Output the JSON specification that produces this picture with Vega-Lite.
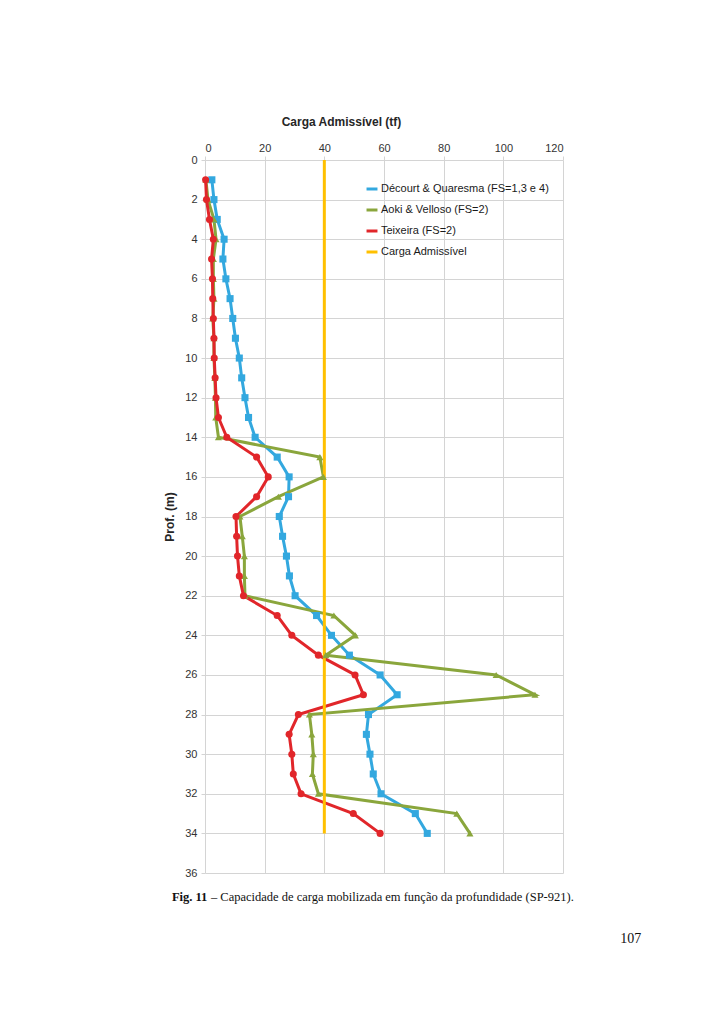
{
  "$schema": "https://vega.github.io/schema/vega-lite/v6.json",
  "width": 358,
  "height": 713,
  "autosize": {"type": "none"},
  "padding": {"left": 205, "top": 160, "right": 161, "bottom": 151},
  "background": "white",
  "config": {
    "font": "Liberation Sans",
    "view": {"stroke": null},
    "axis": {
      "gridColor": "#D4D4D4",
      "gridWidth": 1,
      "tickColor": "#D4D4D4",
      "tickSize": 4,
      "domain": false,
      "labelOverlap": false,
      "labelFont": "Liberation Sans",
      "labelFontSize": 11,
      "labelColor": "#333333",
      "titleFont": "Liberation Sans",
      "titleFontSize": 12,
      "titleFontWeight": "bold",
      "titleColor": "#262626"
    }
  },
  "datasets": {
    "series": [
      {"serie": "Décourt & Quaresma (FS=1,3 e 4)", "prof": 1, "carga": 2.3},
      {"serie": "Décourt & Quaresma (FS=1,3 e 4)", "prof": 2, "carga": 3.0},
      {"serie": "Décourt & Quaresma (FS=1,3 e 4)", "prof": 3, "carga": 4.1},
      {"serie": "Décourt & Quaresma (FS=1,3 e 4)", "prof": 4, "carga": 6.4},
      {"serie": "Décourt & Quaresma (FS=1,3 e 4)", "prof": 5, "carga": 6.0},
      {"serie": "Décourt & Quaresma (FS=1,3 e 4)", "prof": 6, "carga": 7.0},
      {"serie": "Décourt & Quaresma (FS=1,3 e 4)", "prof": 7, "carga": 8.4},
      {"serie": "Décourt & Quaresma (FS=1,3 e 4)", "prof": 8, "carga": 9.3},
      {"serie": "Décourt & Quaresma (FS=1,3 e 4)", "prof": 9, "carga": 10.2},
      {"serie": "Décourt & Quaresma (FS=1,3 e 4)", "prof": 10, "carga": 11.5},
      {"serie": "Décourt & Quaresma (FS=1,3 e 4)", "prof": 11, "carga": 12.3},
      {"serie": "Décourt & Quaresma (FS=1,3 e 4)", "prof": 12, "carga": 13.4},
      {"serie": "Décourt & Quaresma (FS=1,3 e 4)", "prof": 13, "carga": 14.6},
      {"serie": "Décourt & Quaresma (FS=1,3 e 4)", "prof": 14, "carga": 16.8},
      {"serie": "Décourt & Quaresma (FS=1,3 e 4)", "prof": 15, "carga": 24.2},
      {"serie": "Décourt & Quaresma (FS=1,3 e 4)", "prof": 16, "carga": 28.2},
      {"serie": "Décourt & Quaresma (FS=1,3 e 4)", "prof": 17, "carga": 28.0},
      {"serie": "Décourt & Quaresma (FS=1,3 e 4)", "prof": 18, "carga": 24.9},
      {"serie": "Décourt & Quaresma (FS=1,3 e 4)", "prof": 19, "carga": 26.0},
      {"serie": "Décourt & Quaresma (FS=1,3 e 4)", "prof": 20, "carga": 27.3},
      {"serie": "Décourt & Quaresma (FS=1,3 e 4)", "prof": 21, "carga": 28.3},
      {"serie": "Décourt & Quaresma (FS=1,3 e 4)", "prof": 22, "carga": 30.2},
      {"serie": "Décourt & Quaresma (FS=1,3 e 4)", "prof": 23, "carga": 37.4},
      {"serie": "Décourt & Quaresma (FS=1,3 e 4)", "prof": 24, "carga": 42.4},
      {"serie": "Décourt & Quaresma (FS=1,3 e 4)", "prof": 25, "carga": 48.4},
      {"serie": "Décourt & Quaresma (FS=1,3 e 4)", "prof": 26, "carga": 58.7},
      {"serie": "Décourt & Quaresma (FS=1,3 e 4)", "prof": 27, "carga": 64.4},
      {"serie": "Décourt & Quaresma (FS=1,3 e 4)", "prof": 28, "carga": 54.8},
      {"serie": "Décourt & Quaresma (FS=1,3 e 4)", "prof": 29, "carga": 54.1},
      {"serie": "Décourt & Quaresma (FS=1,3 e 4)", "prof": 30, "carga": 55.3},
      {"serie": "Décourt & Quaresma (FS=1,3 e 4)", "prof": 31, "carga": 56.4},
      {"serie": "Décourt & Quaresma (FS=1,3 e 4)", "prof": 32, "carga": 59.0},
      {"serie": "Décourt & Quaresma (FS=1,3 e 4)", "prof": 33, "carga": 70.5},
      {"serie": "Décourt & Quaresma (FS=1,3 e 4)", "prof": 34, "carga": 74.5},
      {"serie": "Aoki & Velloso (FS=2)", "prof": 1, "carga": 0.3},
      {"serie": "Aoki & Velloso (FS=2)", "prof": 2, "carga": 1.0},
      {"serie": "Aoki & Velloso (FS=2)", "prof": 3, "carga": 3.0},
      {"serie": "Aoki & Velloso (FS=2)", "prof": 4, "carga": 3.7},
      {"serie": "Aoki & Velloso (FS=2)", "prof": 5, "carga": 2.8},
      {"serie": "Aoki & Velloso (FS=2)", "prof": 6, "carga": 2.8},
      {"serie": "Aoki & Velloso (FS=2)", "prof": 7, "carga": 3.0},
      {"serie": "Aoki & Velloso (FS=2)", "prof": 8, "carga": 2.6},
      {"serie": "Aoki & Velloso (FS=2)", "prof": 9, "carga": 3.0},
      {"serie": "Aoki & Velloso (FS=2)", "prof": 10, "carga": 3.0},
      {"serie": "Aoki & Velloso (FS=2)", "prof": 11, "carga": 3.3},
      {"serie": "Aoki & Velloso (FS=2)", "prof": 12, "carga": 3.5},
      {"serie": "Aoki & Velloso (FS=2)", "prof": 13, "carga": 3.6},
      {"serie": "Aoki & Velloso (FS=2)", "prof": 14, "carga": 4.5},
      {"serie": "Aoki & Velloso (FS=2)", "prof": 15, "carga": 38.5},
      {"serie": "Aoki & Velloso (FS=2)", "prof": 16, "carga": 39.7},
      {"serie": "Aoki & Velloso (FS=2)", "prof": 17, "carga": 24.6},
      {"serie": "Aoki & Velloso (FS=2)", "prof": 18, "carga": 11.7},
      {"serie": "Aoki & Velloso (FS=2)", "prof": 19, "carga": 12.5},
      {"serie": "Aoki & Velloso (FS=2)", "prof": 20, "carga": 13.2},
      {"serie": "Aoki & Velloso (FS=2)", "prof": 21, "carga": 13.2},
      {"serie": "Aoki & Velloso (FS=2)", "prof": 22, "carga": 13.4},
      {"serie": "Aoki & Velloso (FS=2)", "prof": 23, "carga": 43.2},
      {"serie": "Aoki & Velloso (FS=2)", "prof": 24, "carga": 50.4},
      {"serie": "Aoki & Velloso (FS=2)", "prof": 25, "carga": 40.5},
      {"serie": "Aoki & Velloso (FS=2)", "prof": 26, "carga": 97.6},
      {"serie": "Aoki & Velloso (FS=2)", "prof": 27, "carga": 110.6},
      {"serie": "Aoki & Velloso (FS=2)", "prof": 28, "carga": 35.0},
      {"serie": "Aoki & Velloso (FS=2)", "prof": 29, "carga": 35.8},
      {"serie": "Aoki & Velloso (FS=2)", "prof": 30, "carga": 36.3},
      {"serie": "Aoki & Velloso (FS=2)", "prof": 31, "carga": 36.0},
      {"serie": "Aoki & Velloso (FS=2)", "prof": 32, "carga": 38.0},
      {"serie": "Aoki & Velloso (FS=2)", "prof": 33, "carga": 84.4},
      {"serie": "Aoki & Velloso (FS=2)", "prof": 34, "carga": 88.8},
      {"serie": "Teixeira (FS=2)", "prof": 1, "carga": 0.2},
      {"serie": "Teixeira (FS=2)", "prof": 2, "carga": 0.5},
      {"serie": "Teixeira (FS=2)", "prof": 3, "carga": 1.5},
      {"serie": "Teixeira (FS=2)", "prof": 4, "carga": 2.8},
      {"serie": "Teixeira (FS=2)", "prof": 5, "carga": 2.2},
      {"serie": "Teixeira (FS=2)", "prof": 6, "carga": 2.5},
      {"serie": "Teixeira (FS=2)", "prof": 7, "carga": 2.6},
      {"serie": "Teixeira (FS=2)", "prof": 8, "carga": 2.8},
      {"serie": "Teixeira (FS=2)", "prof": 9, "carga": 3.0},
      {"serie": "Teixeira (FS=2)", "prof": 10, "carga": 3.1},
      {"serie": "Teixeira (FS=2)", "prof": 11, "carga": 3.4},
      {"serie": "Teixeira (FS=2)", "prof": 12, "carga": 3.7},
      {"serie": "Teixeira (FS=2)", "prof": 13, "carga": 4.5},
      {"serie": "Teixeira (FS=2)", "prof": 14, "carga": 7.3},
      {"serie": "Teixeira (FS=2)", "prof": 15, "carga": 17.3},
      {"serie": "Teixeira (FS=2)", "prof": 16, "carga": 21.2},
      {"serie": "Teixeira (FS=2)", "prof": 17, "carga": 17.3},
      {"serie": "Teixeira (FS=2)", "prof": 18, "carga": 10.4},
      {"serie": "Teixeira (FS=2)", "prof": 19, "carga": 10.6},
      {"serie": "Teixeira (FS=2)", "prof": 20, "carga": 10.9},
      {"serie": "Teixeira (FS=2)", "prof": 21, "carga": 11.5},
      {"serie": "Teixeira (FS=2)", "prof": 22, "carga": 12.9},
      {"serie": "Teixeira (FS=2)", "prof": 23, "carga": 24.2},
      {"serie": "Teixeira (FS=2)", "prof": 24, "carga": 29.1},
      {"serie": "Teixeira (FS=2)", "prof": 25, "carga": 38.0},
      {"serie": "Teixeira (FS=2)", "prof": 26, "carga": 50.3},
      {"serie": "Teixeira (FS=2)", "prof": 27, "carga": 53.1},
      {"serie": "Teixeira (FS=2)", "prof": 28, "carga": 31.3},
      {"serie": "Teixeira (FS=2)", "prof": 29, "carga": 28.2},
      {"serie": "Teixeira (FS=2)", "prof": 30, "carga": 29.1},
      {"serie": "Teixeira (FS=2)", "prof": 31, "carga": 29.6},
      {"serie": "Teixeira (FS=2)", "prof": 32, "carga": 32.2},
      {"serie": "Teixeira (FS=2)", "prof": 33, "carga": 49.7},
      {"serie": "Teixeira (FS=2)", "prof": 34, "carga": 58.7},
      {"serie": "Carga Admissível", "prof": 0, "carga": 40},
      {"serie": "Carga Admissível", "prof": 34, "carga": 40}
    ]
  },
  "resolve": {"scale": {"x": "independent", "y": "independent"}, "axis": {"x": "independent", "y": "independent"}},
  "layer": [
    {
      "layer": [
        {
          "data": {"name": "series"},
          "mark": {"type": "line", "strokeWidth": 3},
          "encoding": {
            "x": {
              "field": "carga", "type": "quantitative",
              "scale": {"domain": [0, 120], "nice": false},
              "axis": {
                "orient": "top", "values": [0, 20, 40, 60, 80, 100, 120], "tickCount": 20,
                "title": "Carga Admissível (tf)", "titlePadding": 14,
                "titleX": 136, "labelPadding": 3
              }
            },
            "y": {
              "field": "prof", "type": "quantitative",
              "scale": {"domain": [0, 36], "nice": false, "reverse": true},
              "axis": {
                "values": [0, 2, 4, 6, 8, 10, 12, 14, 16, 18, 20, 22, 24, 26, 28, 30, 32, 34, 36],
                "tickCount": 40,
                "title": "Prof. (m)", "titlePadding": 8, "labelPadding": 4
              }
            },
            "color": {
              "field": "serie", "type": "nominal",
              "scale": {
                "domain": ["Décourt & Quaresma (FS=1,3 e 4)", "Aoki & Velloso (FS=2)", "Teixeira (FS=2)", "Carga Admissível"],
                "range": ["#33A8DF", "#8AA63C", "#E1262A", "#FFC000"]
              },
              "legend": {
                "title": null, "orient": "none", "legendX": 160, "legendY": 22,
                "symbolType": "stroke", "symbolStrokeWidth": 3, "symbolSize": 120,
                "labelFont": "Liberation Sans", "labelFontSize": 11, "labelColor": "#1a1a1a",
                "labelLimit": 0, "rowPadding": 8, "labelOffset": 2
              }
            },
            "order": {"field": "prof", "type": "quantitative"}
          }
        },
        {
          "data": {"name": "series"},
          "transform": [{"filter": "datum.serie !== 'Carga Admissível'"}],
          "mark": {"type": "point", "filled": true, "size": 50, "opacity": 1},
          "encoding": {
            "x": {"field": "carga", "type": "quantitative"},
            "y": {"field": "prof", "type": "quantitative"},
            "color": {"field": "serie", "type": "nominal"},
            "shape": {
              "field": "serie", "type": "nominal",
              "scale": {
                "domain": ["Décourt & Quaresma (FS=1,3 e 4)", "Aoki & Velloso (FS=2)", "Teixeira (FS=2)"],
                "range": ["square", "triangle-up", "circle"]
              },
              "legend": null
            }
          }
        }
      ]
    },
    {
      "data": {"values": [{"t": "Fig. 11", "px": -11.1, "py": 37.4}]},
      "mark": {"type": "text", "font": "Liberation Serif", "fontSize": 12.5, "fontWeight": "bold", "align": "left", "baseline": "alphabetic", "color": "#111111"},
      "encoding": {
        "text": {"field": "t"},
        "x": {"field": "px", "type": "quantitative", "scale": {"domain": [0, 120], "nice": false, "zero": false}, "axis": null},
        "y": {"field": "py", "type": "quantitative", "scale": {"domain": [0, 36], "nice": false, "zero": false, "reverse": true}, "axis": null}
      }
    },
    {
      "data": {"values": [{"t": "– Capacidade de carga mobilizada em função da profundidade (SP-921).", "px": 2.0, "py": 37.4}]},
      "mark": {"type": "text", "font": "Liberation Serif", "fontSize": 12.5, "align": "left", "baseline": "alphabetic", "color": "#111111"},
      "encoding": {
        "text": {"field": "t"},
        "x": {"field": "px", "type": "quantitative", "scale": {"domain": [0, 120], "nice": false, "zero": false}, "axis": null},
        "y": {"field": "py", "type": "quantitative", "scale": {"domain": [0, 36], "nice": false, "zero": false, "reverse": true}, "axis": null}
      }
    },
    {
      "data": {"values": [{"t": "107", "px": 146.2, "py": 39.55}]},
      "mark": {"type": "text", "font": "Liberation Serif", "fontSize": 14, "align": "right", "baseline": "alphabetic", "color": "#111111"},
      "encoding": {
        "text": {"field": "t"},
        "x": {"field": "px", "type": "quantitative", "scale": {"domain": [0, 120], "nice": false, "zero": false}, "axis": null},
        "y": {"field": "py", "type": "quantitative", "scale": {"domain": [0, 36], "nice": false, "zero": false, "reverse": true}, "axis": null}
      }
    }
  ]
}
